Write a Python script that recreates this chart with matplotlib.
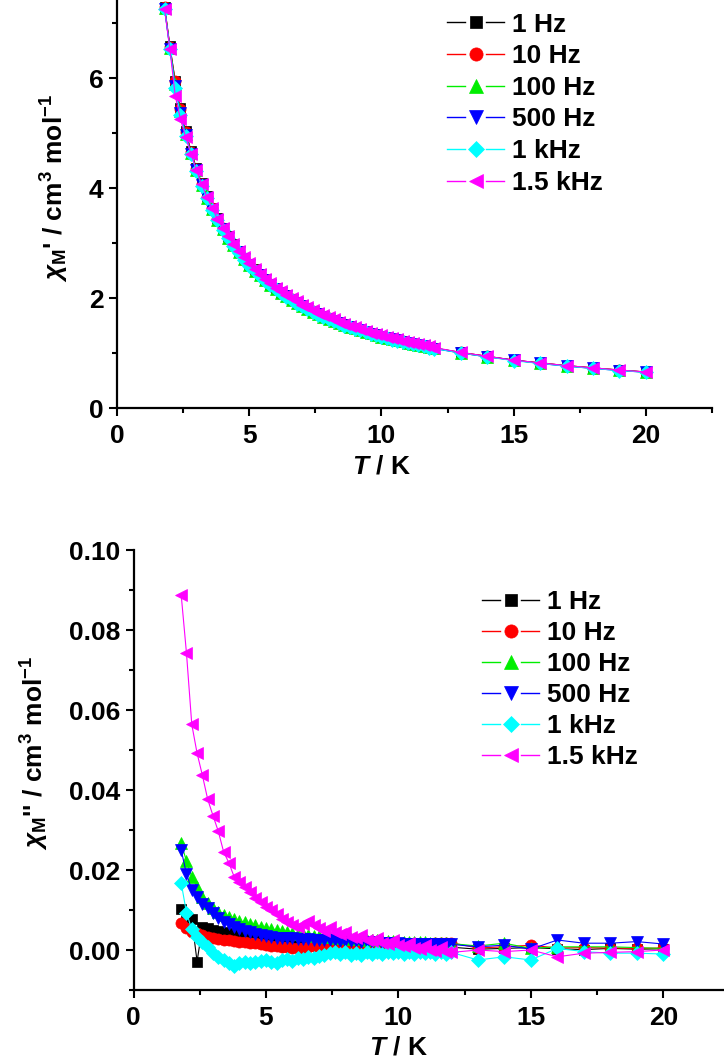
import matplotlib
matplotlib.use("Agg")
import matplotlib.pyplot as plt
from matplotlib.lines import Line2D
from matplotlib.legend_handler import HandlerBase
from matplotlib.ticker import MultipleLocator, FormatStrFormatter, FixedLocator

plt.rcParams['font.family'] = ['Liberation Sans', 'DejaVu Sans']
plt.rcParams['font.weight'] = 'bold'
plt.rcParams['mathtext.fontset'] = 'custom'
plt.rcParams['mathtext.rm'] = 'Liberation Sans:bold'
plt.rcParams['mathtext.it'] = 'Liberation Sans:italic:bold'
plt.rcParams['mathtext.bf'] = 'Liberation Sans:bold'

# ---------------- data ----------------
T = [1.8, 2.0, 2.2, 2.4, 2.6, 2.8, 3.0, 3.2, 3.4, 3.6,
     3.8, 4.0, 4.2, 4.4, 4.6, 4.8, 5.0, 5.2, 5.4, 5.6,
     5.8, 6.0, 6.2, 6.4, 6.6, 6.8, 7.0, 7.2, 7.4, 7.6,
     7.8, 8.0, 8.2, 8.4, 8.6, 8.8, 9.0, 9.2, 9.4, 9.6,
     9.8, 10.0, 10.2, 10.4, 10.6, 10.8, 11.0, 11.2, 11.4, 11.6,
     11.8, 12.0,
     13, 14, 15, 16, 17, 18, 19, 20]

labels = ['1 Hz', '10 Hz', '100 Hz', '500 Hz', '1 kHz', '1.5 kHz']

chi_p_1Hz = [7.30, 6.58, 5.95, 5.45, 5.03, 4.67, 4.36, 4.09, 3.85, 3.64,
             3.45, 3.28, 3.12, 2.98, 2.85, 2.73, 2.62, 2.52, 2.43, 2.34,
             2.26, 2.18, 2.11, 2.05, 1.99, 1.93, 1.87, 1.82, 1.77, 1.72,
             1.68, 1.64, 1.60, 1.56, 1.52, 1.49, 1.46, 1.42, 1.39, 1.36,
             1.34, 1.31, 1.28, 1.26, 1.24, 1.21, 1.19, 1.17, 1.15, 1.13,
             1.11, 1.09,
             1.01, 0.94, 0.87, 0.82, 0.77, 0.73, 0.69, 0.655]
chi_p_10Hz = [7.29, 6.57, 5.94, 5.44, 5.02, 4.66, 4.35, 4.08, 3.84, 3.63,
              3.44, 3.27, 3.11, 2.97, 2.84, 2.72, 2.61, 2.51, 2.42, 2.33,
              2.25, 2.17, 2.10, 2.04, 1.98, 1.92, 1.86, 1.81, 1.76, 1.71,
              1.67, 1.63, 1.59, 1.55, 1.52, 1.48, 1.45, 1.42, 1.39, 1.36,
              1.33, 1.30, 1.28, 1.25, 1.23, 1.21, 1.19, 1.17, 1.15, 1.13,
              1.11, 1.09,
              1.01, 0.94, 0.87, 0.82, 0.77, 0.73, 0.69, 0.655]
chi_p_100Hz = [7.27, 6.55, 5.90, 5.40, 4.99, 4.63, 4.33, 4.06, 3.82, 3.61,
               3.42, 3.25, 3.10, 2.96, 2.83, 2.71, 2.60, 2.50, 2.41, 2.32,
               2.24, 2.16, 2.09, 2.03, 1.97, 1.91, 1.86, 1.80, 1.75, 1.71,
               1.66, 1.62, 1.58, 1.55, 1.51, 1.48, 1.45, 1.41, 1.38, 1.36,
               1.33, 1.30, 1.28, 1.25, 1.23, 1.21, 1.18, 1.16, 1.14, 1.12,
               1.11, 1.09,
               1.00, 0.93, 0.87, 0.81, 0.77, 0.72, 0.69, 0.65]
chi_p_500Hz = [7.26, 6.53, 5.86, 5.37, 4.97, 4.62, 4.32, 4.05, 3.81, 3.60,
               3.42, 3.25, 3.09, 2.95, 2.83, 2.71, 2.60, 2.50, 2.41, 2.32,
               2.24, 2.16, 2.09, 2.03, 1.97, 1.91, 1.85, 1.80, 1.75, 1.71,
               1.66, 1.62, 1.58, 1.54, 1.51, 1.48, 1.44, 1.41, 1.38, 1.35,
               1.33, 1.30, 1.27, 1.25, 1.23, 1.20, 1.18, 1.16, 1.14, 1.12,
               1.10, 1.08,
               1.00, 0.93, 0.87, 0.81, 0.76, 0.72, 0.68, 0.65]
chi_p_1kHz = [7.26, 6.53, 5.82, 5.33, 4.95, 4.61, 4.31, 4.04, 3.81, 3.60,
              3.41, 3.24, 3.09, 2.95, 2.82, 2.70, 2.59, 2.49, 2.40, 2.31,
              2.23, 2.16, 2.09, 2.02, 1.96, 1.90, 1.85, 1.80, 1.75, 1.70,
              1.66, 1.62, 1.58, 1.54, 1.50, 1.47, 1.44, 1.41, 1.38, 1.35,
              1.32, 1.29, 1.27, 1.24, 1.22, 1.20, 1.18, 1.16, 1.14, 1.12,
              1.10, 1.08,
              1.00, 0.93, 0.86, 0.81, 0.76, 0.72, 0.68, 0.65]
chi_p_1500Hz = [7.25, 6.52, 5.68, 5.25, 4.92, 4.62, 4.33, 4.07, 3.84, 3.63,
                3.44, 3.27, 3.12, 2.98, 2.85, 2.74, 2.63, 2.53, 2.44, 2.35,
                2.27, 2.19, 2.12, 2.06, 2.00, 1.94, 1.88, 1.83, 1.78, 1.73,
                1.69, 1.65, 1.61, 1.57, 1.53, 1.50, 1.47, 1.43, 1.40, 1.37,
                1.35, 1.32, 1.29, 1.27, 1.25, 1.22, 1.20, 1.18, 1.16, 1.14,
                1.12, 1.10,
                1.01, 0.94, 0.87, 0.82, 0.77, 0.73, 0.69, 0.655]

chi_pp_1Hz = [0.0102, 0.0085, 0.0077, -0.0029, 0.0058, 0.0054, 0.0050, 0.0047, 0.0045, 0.0042,
              0.0040, 0.0037, 0.0035, 0.0034, 0.0032, 0.0030, 0.0028, 0.0026, 0.0025, 0.0023,
              0.0022, 0.0021, 0.0020, 0.0019, 0.0018, 0.0017, 0.0016, 0.0016, 0.0015, 0.0014,
              0.0014, 0.0013, 0.0013, 0.0012, 0.0012, 0.0011, 0.0011, 0.0010, 0.0010, 0.0010,
              0.0009, 0.0009, 0.0009, 0.0008, 0.0008, 0.0008, 0.0008, 0.0007, 0.0007, 0.0007,
              0.0007, 0.0007,
              0.0002, 0.0004, 0.0006, 0.0003, 0.0001, 0.0004, 0.0002, 0.0003]
chi_pp_10Hz = [0.0067, 0.0054, 0.0046, 0.0042, 0.0038, 0.0033, 0.0029, 0.0027, 0.0025, 0.0024,
               0.0022, 0.0021, 0.0019, 0.0018, 0.0017, 0.0015, 0.0012, 0.0011, 0.0010, 0.0008,
               0.0007, 0.0005, 0.0004, 0.0006, 0.0008, 0.0009, 0.0010, 0.0011, 0.0011, 0.0012,
               0.0012, 0.0012, 0.0013, 0.0013, 0.0013, 0.0013, 0.0014, 0.0014, 0.0014, 0.0014,
               0.0015, 0.0015, 0.0015, 0.0015, 0.0016, 0.0016, 0.0016, 0.0016, 0.0017, 0.0017,
               0.0017, 0.0018,
               0.0005, 0.0008, 0.0012, 0.0005, 0.0006, 0.0005, 0.0004, 0.0005]
chi_pp_100Hz = [0.0267, 0.0222, 0.0183, 0.0157, 0.0133, 0.0117, 0.0104, 0.0096, 0.0088, 0.0082,
                0.0077, 0.0073, 0.0069, 0.0066, 0.0062, 0.0058, 0.0055, 0.0053, 0.0050, 0.0048,
                0.0046, 0.0043, 0.0041, 0.0040, 0.0038, 0.0036, 0.0034, 0.0033, 0.0032, 0.0031,
                0.0030, 0.0029, 0.0028, 0.0027, 0.0027, 0.0026, 0.0025, 0.0024, 0.0024, 0.0023,
                0.0022, 0.0022, 0.0021, 0.0020, 0.0020, 0.0019, 0.0019, 0.0018, 0.0018, 0.0017,
                0.0017, 0.0016,
                0.0010, 0.0017, 0.0004, 0.0008, 0.0008, 0.0008, 0.0006, 0.0004]
chi_pp_500Hz = [0.0250, 0.0190, 0.0150, 0.0132, 0.0115, 0.0105, 0.0092, 0.0080, 0.0071, 0.0065,
                0.0058, 0.0053, 0.0048, 0.0045, 0.0041, 0.0037, 0.0034, 0.0032, 0.0031, 0.0030,
                0.0029, 0.0029, 0.0028, 0.0028, 0.0027, 0.0026, 0.0025, 0.0025, 0.0024, 0.0024,
                0.0023, 0.0023, 0.0022, 0.0022, 0.0021, 0.0020, 0.0020, 0.0019, 0.0018, 0.0018,
                0.0017, 0.0017, 0.0016, 0.0016, 0.0016, 0.0015, 0.0015, 0.0015, 0.0015, 0.0014,
                0.0014, 0.0014,
                0.0008, 0.0012, 0.0002, 0.0025, 0.0017, 0.0017, 0.0021, 0.0015]
chi_pp_1kHz = [0.0168, 0.0093, 0.0052, 0.0033, 0.0021, 0.0008, -0.0007, -0.0017, -0.0025, -0.0033,
               -0.0039, -0.0033, -0.0030, -0.0033, -0.0031, -0.0027, -0.0025, -0.0030, -0.0032, -0.0026,
               -0.0023, -0.0027, -0.0020, -0.0022, -0.0017, -0.0019, -0.0015, -0.0012, -0.0008, -0.0004,
               -0.0010, -0.0006, -0.0012, -0.0008, -0.0012, -0.0006, -0.0010, -0.0005, -0.0009, -0.0004,
               -0.0008, -0.0006, -0.0010, -0.0005, -0.0009, -0.0004, -0.0008, -0.0006, -0.0010, -0.0005,
               -0.0009, -0.0006,
               -0.0025, -0.0017, -0.0025, 0.0004, -0.0004, -0.0008, -0.0008, -0.0010]
chi_pp_1500Hz = [0.0888, 0.0742, 0.0564, 0.0492, 0.0437, 0.0377, 0.0336, 0.0297, 0.0246, 0.0218,
                 0.0183, 0.0170, 0.0157, 0.0145, 0.0131, 0.0120, 0.0108, 0.0100, 0.0089, 0.0078,
                 0.0071, 0.0063, 0.0058, 0.0066, 0.0072, 0.0062, 0.0055, 0.0048, 0.0058, 0.0044,
                 0.0040, 0.0046, 0.0033, 0.0029, 0.0038, 0.0026, 0.0022, 0.0031, 0.0018, 0.0014,
                 0.0024, 0.0012, 0.0009, 0.0017, 0.0005, 0.0003, 0.0012, 0.0000, -0.0002, 0.0008,
                 -0.0004, -0.0006,
                 0.0000, -0.0004, 0.0000, -0.0017, -0.0008, -0.0006, -0.0004, 0.0000]

chi_p = [chi_p_1Hz, chi_p_10Hz, chi_p_100Hz, chi_p_500Hz, chi_p_1kHz, chi_p_1500Hz]
chi_pp = [chi_pp_1Hz, chi_pp_10Hz, chi_pp_100Hz, chi_pp_500Hz, chi_pp_1kHz, chi_pp_1500Hz]

top_yticks = [0, 2, 4, 6]
bot_yticks = [0.0, 0.02, 0.04, 0.06, 0.08, 0.10]
xticks = [0, 5, 10, 15, 20]

# ---------------- styles ----------------
colors = ['#000000', '#ff0000', '#00ee00', '#0000ff', '#00ffff', '#ff00ff']
markers = ['s', 'o', '^', 'v', 'D', '<']
msizes = [7.0, 8.0, 9.0, 9.0, 7.0, 9.0]
FS = 19


class GapHandler(HandlerBase):
    def create_artists(self, legend, orig_handle, xdescent, ydescent,
                       width, height, fontsize, trans):
        y = height / 2.0 - ydescent
        x0 = -xdescent
        x1 = x0 + width
        xm = 0.5 * (x0 + x1)
        gap = 0.18 * width
        c = orig_handle.get_color()
        l1 = Line2D([x0, xm - gap], [y, y], color=c, lw=1.0)
        l2 = Line2D([xm + gap, x1], [y, y], color=c, lw=1.0)
        m = Line2D([xm], [y], ls='none', marker=orig_handle.get_marker(),
                   ms=orig_handle.get_markersize() + 1.5, color=c, mec=c, mew=0.5)
        for a in (l1, l2, m):
            a.set_transform(trans)
        return [l1, l2, m]


W, H = 724, 1063
fig = plt.figure(figsize=(W / 100, H / 100), dpi=100)

ax1 = fig.add_axes([117 / W, (H - 408) / H, 595 / W, 440 / H])
ax2 = fig.add_axes([133.5 / W, (H - 990) / H, 596 / W, 440 / H])


def style(ax):
    for s in ['top', 'right']:
        ax.spines[s].set_visible(False)
    for s in ['left', 'bottom']:
        ax.spines[s].set_linewidth(1.6)
    ax.tick_params(which='major', direction='out', length=5.8, width=1.5,
                   labelsize=FS)
    ax.tick_params(which='minor', direction='out', length=3.6, width=1.5)
    ax.tick_params(axis='y', which='major', pad=4)
    ax.tick_params(axis='x', which='major', pad=6)
    for lab in ax.get_xticklabels() + ax.get_yticklabels():
        lab.set_fontweight('bold')


handles1 = []
for y, c, mk, ms, lab in zip(chi_p, colors, markers, msizes, labels):
    h, = ax1.plot(T, y, color=c, marker=mk, ms=ms, mec=c, mew=0.5, lw=0.8,
                  label=lab)
    handles1.append(h)
handles2 = []
for y, c, mk, ms, lab in zip(chi_pp, colors, markers, msizes, labels):
    h, = ax2.plot(T, y, color=c, marker=mk, ms=ms, mec=c, mew=0.5, lw=0.8,
                  label=lab)
    handles2.append(h)

ax1.set_xlim(0, 22.5)
ax1.set_ylim(0, 8)
ax1.xaxis.set_major_locator(FixedLocator(xticks))
ax1.xaxis.set_minor_locator(MultipleLocator(2.5))
ax1.yaxis.set_major_locator(FixedLocator(top_yticks))
ax1.yaxis.set_minor_locator(FixedLocator([1, 3, 5, 7]))

ax2.set_xlim(0, 22.5)
ax2.set_ylim(-0.01, 0.10)
ax2.yaxis.set_major_locator(FixedLocator(bot_yticks))
ax2.yaxis.set_major_formatter(FormatStrFormatter('%.2f'))
ax2.yaxis.set_minor_locator(MultipleLocator(0.01))
ax2.xaxis.set_major_locator(FixedLocator(xticks))
ax2.xaxis.set_minor_locator(MultipleLocator(2.5))

style(ax1)
style(ax2)

lab_font = dict(fontsize=FS, fontweight='bold')
ax1.set_xlabel(r'$T$ / K', **lab_font)
ax1.xaxis.set_label_coords(10 / 22.5, -0.106)
ax2.set_xlabel(r'$T$ / K', **lab_font)
ax2.xaxis.set_label_coords(10 / 22.5, -0.104)

ax1.set_ylabel(r"$\chi_{\mathrm{M}}$' / cm$^{\mathrm{3}}$ mol$^{\mathrm{-1}}$", **lab_font)
ax1.yaxis.set_label_coords(-0.078, 0.5)
ax2.set_ylabel(r"$\chi_{\mathrm{M}}$'' / cm$^{\mathrm{3}}$ mol$^{\mathrm{-1}}$", **lab_font)
ax2.yaxis.set_label_coords(-0.138, 0.54)

leg_kw = dict(frameon=False, prop={'weight': 'bold', 'size': FS},
              handlelength=2.16, handletextpad=0.30,
              borderpad=0, borderaxespad=0, loc='upper left',
              handler_map={Line2D: GapHandler()})
ax1.legend(handles=handles1, bbox_to_anchor=(447 / W, 1 - 12.5 / H),
           bbox_transform=fig.transFigure, labelspacing=0.29, **leg_kw)
ax2.legend(handles=handles2, bbox_to_anchor=(482 / W, 1 - 590.0 / H),
           bbox_transform=fig.transFigure, labelspacing=0.265, **leg_kw)

fig.savefig('out.png', dpi=100)
